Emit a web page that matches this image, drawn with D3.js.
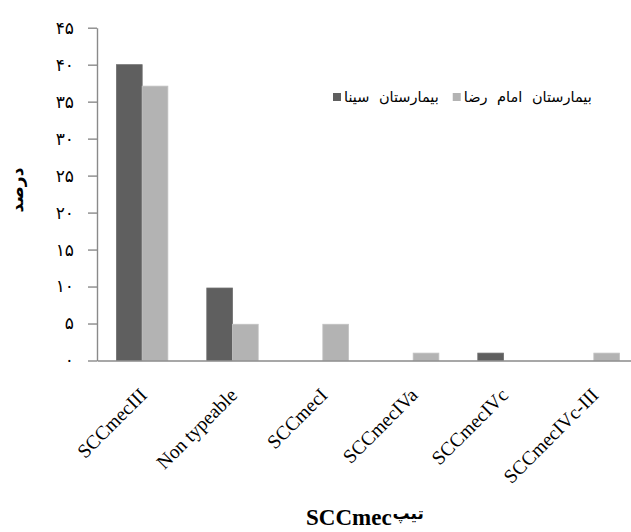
<!DOCTYPE html>
<html><head><meta charset="utf-8">
<script src="https://cdn.jsdelivr.net/npm/d3@7/dist/d3.min.js"></script>
<style>body{margin:0;background:#fff}svg{display:block}</style>
</head><body>
<svg id="c" width="631" height="532"></svg>
<script>
const categories = ["SCCmecIII","Non typeable","SCCmecI","SCCmecIVa","SCCmecIVc","SCCmecIVc-III"];
const seriesNames = ["بیمارستان سینا","بیمارستان امام رضا"];
const sinaValues = [40, 9.8, 0, 0, 1, 0];
const imamRezaValues = [37.1, 4.9, 4.9, 1, 0, 1];
const yTicks = [0,5,10,15,20,25,30,35,40,45];
const colors = ["#5f5f5f","#b3b3b3"];

const svg = d3.select("#c");
const faDigits = s => String(s).replace(/\d/g, d => "۰۱۲۳۴۵۶۷۸۹"[d]);

const x = d3.scaleBand().domain(categories).range([97, 639]).padding(0);
const xs = d3.scaleBand().domain(seriesNames).range([0, x.bandwidth()]).paddingInner(0).paddingOuter(0.757);
const y = d3.scaleLinear().domain([0,45]).range([360.5, 27.7]);

const data = categories.map((c,i)=>({cat:c, vals:[sinaValues[i], imamRezaValues[i]]}));

// y axis
const ya = svg.append("g").attr("transform","translate(97,0)")
  .call(d3.axisLeft(y).tickValues(yTicks).tickFormat(faDigits).tickSize(9).tickSizeOuter(0).tickPadding(14));
ya.selectAll("path,line").attr("stroke","#8a8a8a").attr("stroke-width",1.4);
ya.selectAll("text").attr("font-family","DejaVu Sans").attr("font-size",17).attr("fill","#000");

// bars
const g = svg.append("g");
data.forEach(d=>{
  d.vals.forEach((v,j)=>{
    if(v<=0) return;
    g.append("rect")
      .attr("x", x(d.cat)+xs(seriesNames[j]))
      .attr("y", y(v))
      .attr("width", xs.bandwidth())
      .attr("height", y(0)-y(v))
      .attr("fill", colors[j])
      .attr("stroke", j===0 ? "#6e6e6e" : "#c2c2c2")
      .attr("stroke-width", 0.8);
  });
});

// x axis
const xa = svg.append("g").attr("transform","translate(0,360.5)")
  .call(d3.axisBottom(x).tickSize(0).tickSizeOuter(0).tickPadding(0));
xa.select("path").attr("stroke","#8a8a8a").attr("stroke-width",1.6);
xa.selectAll("text")
  .attr("font-family","Liberation Serif").attr("font-size",19.5).attr("fill","#000")
  .attr("text-anchor","end")
  .attr("transform","translate(1,31) rotate(-45)")
  .attr("dy","0.35em");

// legend
const leg = svg.append("g");
let lx = 333;
seriesNames.forEach((n,j)=>{
  leg.append("rect").attr("x",lx).attr("y",93).attr("width",8).attr("height",8).attr("fill",colors[j]);
  const t = leg.append("text").attr("x",lx+11).attr("y",102)
    .attr("font-family","DejaVu Sans").attr("font-size",14.5).attr("word-spacing",5)
    .attr("fill","#000").text(n);
  lx += 11 + t.node().getComputedTextLength() + 14;
});

// y title
svg.append("text").attr("transform","translate(23,190) rotate(-90)")
  .attr("text-anchor","middle").attr("font-family","DejaVu Sans").attr("font-weight","bold")
  .attr("font-size",17).text("درصد");

// x title
const xt1 = svg.append("text").attr("x",306).attr("y",525).attr("text-anchor","start")
  .attr("font-family","Liberation Serif").attr("font-weight","bold").attr("font-size",23)
  .text("SCCmec");
svg.append("text").attr("x",306 + xt1.node().getComputedTextLength() + 1).attr("y",519).attr("text-anchor","start")
  .attr("font-family","DejaVu Sans").attr("font-weight","bold").attr("font-size",17)
  .text("تیپ");
</script>
</body></html>
